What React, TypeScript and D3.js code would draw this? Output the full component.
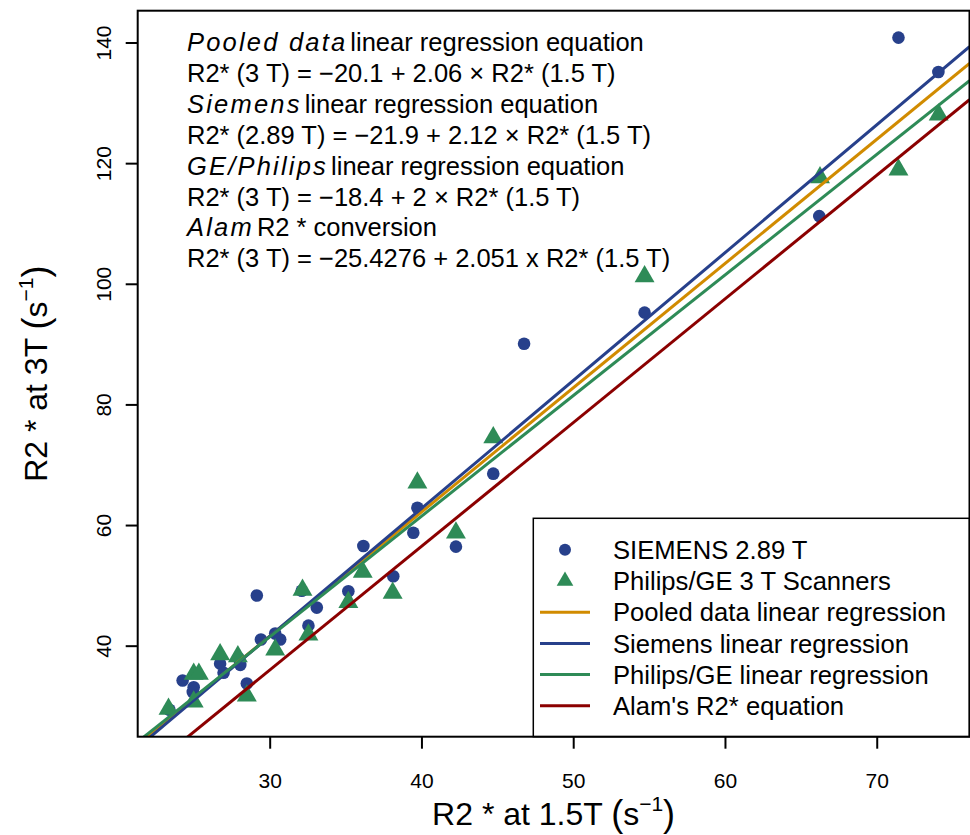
import React from 'react';
import * as d3 from 'd3';

// R2* at 1.5T (x) and at 3T (y)
const siemensX = [23.36, 24.23, 24.96, 24.9, 26.7, 26.93, 27.92, 28.03, 28.46, 29.12, 29.39, 30.33, 30.66, 32.08, 32.52, 33.07, 35.15, 36.14, 38.11, 39.43, 39.7, 42.24, 44.7, 46.73, 54.67, 66.18, 71.4, 74.03];
const siemensY = [29.45, 34.3, 33.2, 32.4, 37.1, 35.6, 38.0, 36.9, 33.8, 48.4, 41.1, 42.1, 41.1, 49.2, 43.4, 46.4, 49.1, 56.6, 51.6, 58.8, 62.95, 56.5, 68.6, 90.15, 95.3, 111.3, 140.9, 135.2];
const philipsX = [23.3, 24.96, 24.96, 25.3, 26.7, 27.87, 28.46, 30.33, 32.13, 32.52, 35.15, 36.1, 38.07, 39.7, 42.24, 44.7, 54.67, 66.23, 71.4, 74.05];
const philipsY = [29.6, 30.8, 35.4, 35.4, 38.6, 38.3, 31.8, 39.4, 49.3, 41.9, 47.3, 52.3, 48.8, 67.1, 58.8, 74.6, 101.3, 117.7, 119.0, 128.1];

// regression lines: intercept + slope * x
const fitNames = ['Pooled data linear regression', 'Siemens linear regression', 'Philips/GE linear regression', "Alam's R2* equation"];
const fitIntercepts = [-20.1, -21.9, -18.4, -25.4276];
const fitSlopes = [2.06, 2.12, 2.0, 2.051];
const fitColors = ['#D18B00', '#27408B', '#2E8B57', '#8B0000'];

const xTicks = [30, 40, 50, 60, 70];
const yTicks = [40, 60, 80, 100, 120, 140];

const noteItalic = ['Pooled data', 'Siemens', 'GE/Philips', 'Alam'];
const noteRest = ['linear regression equation', 'linear regression equation', 'linear regression equation', 'R2 * conversion'];
const noteEquations = [
  'R2* (3 T) = \u221220.1 + 2.06 \u00d7 R2* (1.5 T)',
  'R2* (2.89 T) = \u221221.9 + 2.12 \u00d7 R2* (1.5 T)',
  'R2* (3 T) = \u221218.4 + 2 \u00d7 R2* (1.5 T)',
  'R2* (3 T) = \u221225.4276 + 2.051 x R2* (1.5 T)'
];

const width = 970;
const height = 835;
const left = 137.7, right = 969.5, top = 10.7, bottom = 736.7;
const font = "'Liberation Sans', Arial, Helvetica, sans-serif";

// R style axis range: data extent padded by 4%
function padded(vals: number[]) {
  const [lo, hi] = d3.extent(vals) as [number, number];
  const r = hi - lo;
  return [lo - 0.04 * r, hi + 0.04 * r];
}

export default function App() {
  const x = d3.scaleLinear().domain(padded(siemensX.concat(philipsX))).range([left, right]);
  const y = d3.scaleLinear().domain(padded(siemensY.concat(philipsY))).range([bottom, top]);
  const [x0, x1] = x.domain();

  const tri = d3.symbol(d3.symbolTriangle, 172)();
  const triLegend = d3.symbol(d3.symbolTriangle, 120)();

  const legendX = 533.3, legendY = 518.3;
  const rowStep = 31.2;
  const rowY = (i: number) => legendY + 31.5 + i * rowStep;
  const legendLabels = ['SIEMENS 2.89 T', 'Philips/GE 3 T Scanners'].concat(fitNames);

  return (
    <svg width={width} height={height} style={{ position: 'absolute', left: 0, top: 0, background: '#fff' }} fontFamily={font}>
      <defs>
        <clipPath id="plotclip">
          <rect x={left} y={top} width={right - left} height={bottom - top} />
        </clipPath>
      </defs>

      {/* points */}
      {siemensX.map((d, i) => (
        <circle key={'s' + i} cx={x(d)} cy={y(siemensY[i])} r={6.3} fill="#27408B" />
      ))}
      {philipsX.map((d, i) => (
        <path key={'p' + i} d={tri!} transform={`translate(${x(d)},${y(philipsY[i])})`} fill="#2E8B57" />
      ))}

      {/* regression lines */}
      <g clipPath="url(#plotclip)">
        {fitNames.map((n, i) => (
          <line key={n} x1={x(x0)} y1={y(fitIntercepts[i] + fitSlopes[i] * x0)}
            x2={x(x1)} y2={y(fitIntercepts[i] + fitSlopes[i] * x1)}
            stroke={fitColors[i]} strokeWidth={3} />
        ))}
      </g>

      {/* annotation */}
      <g fontSize={25.5} fill="#000">
        {noteItalic.map((t, i) => (
          <React.Fragment key={t}>
            <text x={187} y={51 + i * 2 * 30.9}>
              <tspan fontStyle="italic" letterSpacing={2.2}>{t}</tspan>
              <tspan dx={3}>{noteRest[i]}</tspan>
            </text>
            <text x={187} y={51 + (i * 2 + 1) * 30.9}>{noteEquations[i]}</text>
          </React.Fragment>
        ))}
      </g>

      {/* legend */}
      <rect x={legendX} y={legendY} width={right - legendX} height={bottom - legendY} fill="#fff" stroke="#000" strokeWidth={1.5} />
      <circle cx={565} cy={rowY(0)} r={6} fill="#27408B" />
      <path d={triLegend!} transform={`translate(565,${rowY(1)})`} fill="#2E8B57" />
      {fitNames.map((n, i) => (
        <line key={n} x1={540} x2={590} y1={rowY(i + 2)} y2={rowY(i + 2)} stroke={fitColors[i]} strokeWidth={3} />
      ))}
      {legendLabels.map((n, i) => (
        <text key={n} x={613} y={rowY(i)} dy="0.36em" fontSize={25.6}>{n}</text>
      ))}

      {/* box */}
      <rect x={left} y={top} width={right - left} height={bottom - top} fill="none" stroke="#000" strokeWidth={2} />

      {/* x axis */}
      {xTicks.map(t => (
        <g key={t}>
          <line x1={x(t)} x2={x(t)} y1={bottom} y2={bottom + 12} stroke="#000" strokeWidth={2} />
          <text x={x(t)} y={788} textAnchor="middle" fontSize={21}>{t}</text>
        </g>
      ))}
      {/* y axis */}
      {yTicks.map(t => (
        <g key={t}>
          <line x1={left - 12} x2={left} y1={y(t)} y2={y(t)} stroke="#000" strokeWidth={2} />
          <text transform={`translate(111,${y(t)}) rotate(-90)`} textAnchor="middle" fontSize={21}>{t}</text>
        </g>
      ))}

      {/* axis titles */}
      <text x={(left + right) / 2} y={825} textAnchor="middle" fontSize={32}>
        R2 * at 1.5T <tspan fontSize={36} dy={1}>(</tspan><tspan dy={-1}>s</tspan>
        <tspan fontSize={21} dy={-14}>{'\u22121'}</tspan><tspan fontSize={36} dy={15}>)</tspan>
      </text>
      <text transform={`translate(47,${(top + bottom) / 2}) rotate(-90)`} textAnchor="middle" fontSize={32}>
        R2 * at 3T <tspan fontSize={36} dy={1}>(</tspan><tspan dy={-1}>s</tspan>
        <tspan fontSize={21} dy={-14}>{'\u22121'}</tspan><tspan fontSize={36} dy={15}>)</tspan>
      </text>
    </svg>
  );
}
